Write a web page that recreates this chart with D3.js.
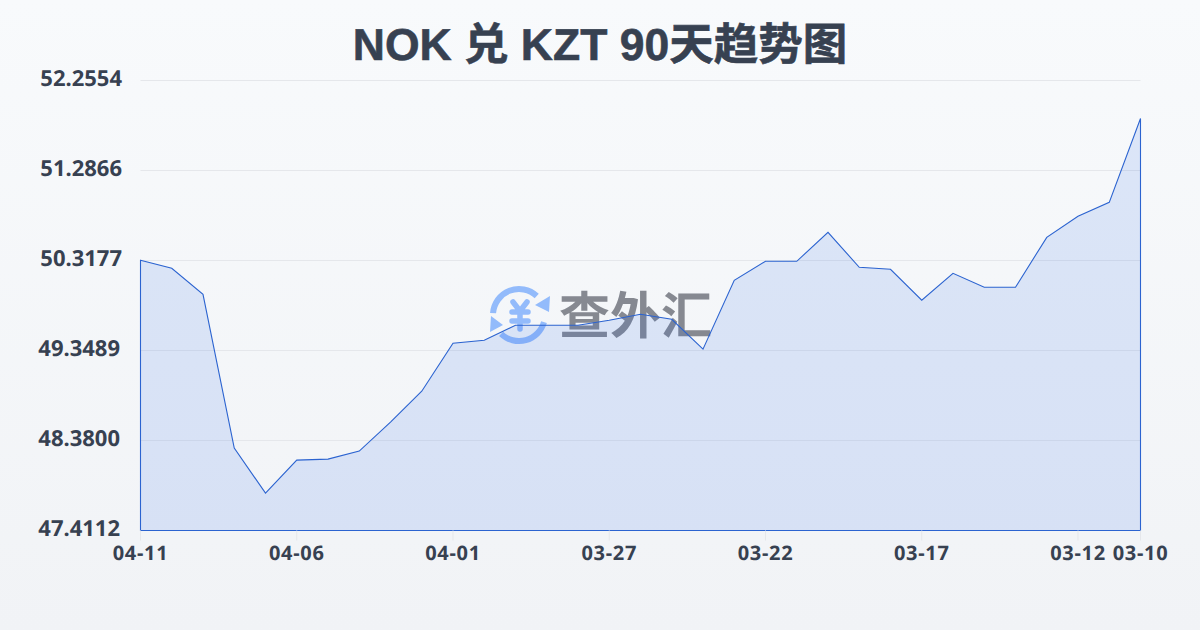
<!DOCTYPE html>
<html><head><meta charset="utf-8">
<script src="https://cdn.jsdelivr.net/npm/d3@7/dist/d3.min.js"></script>
<style>html,body{margin:0;padding:0;background:#f8fafc}svg{display:block}text{text-rendering:geometricPrecision}</style></head>
<body><svg id="c" width="1200" height="630"></svg>
<script>
const titleText = "NOK 兑 KZT 90天趋势图";
const watermarkText = "查外汇";
const categories = ["04-11","04-10","04-09","04-08","04-07","04-06","04-05","04-04","04-03","04-02","04-01","03-31","03-30","03-29","03-28","03-27","03-26","03-25","03-24","03-23","03-22","03-21","03-20","03-19","03-18","03-17","03-16","03-15","03-14","03-13","03-12","03-11","03-10"];
const values = [50.320,50.234,49.954,48.298,47.814,48.169,48.180,48.266,48.578,48.911,49.427,49.460,49.621,49.621,49.621,49.675,49.739,49.685,49.363,50.105,50.309,50.309,50.621,50.245,50.223,49.890,50.180,50.030,50.030,50.567,50.793,50.944,51.847];
const yTicks = [47.4112,48.3800,49.3489,50.3177,51.2866,52.2554];
const xTickLabels = ["04-11","04-06","04-01","03-27","03-22","03-17","03-12","03-10"];

const font = "'Noto Sans','Noto Sans CJK SC',sans-serif";
const svg = d3.select("#c");
const defs = svg.append("defs");
const bg = defs.append("linearGradient").attr("id","bg").attr("x1",0).attr("y1",0).attr("x2",0).attr("y2",1);
bg.append("stop").attr("offset","0%").attr("stop-color","#f8fafc");
bg.append("stop").attr("offset","100%").attr("stop-color","#f1f3f6");
svg.append("rect").attr("width",1200).attr("height",630).attr("fill","url(#bg)");

const x = d3.scalePoint().domain(categories).range([140.5,1140.5]);
const y = d3.scaleLinear().domain([47.4112,52.2554]).range([530.5,80.5]);

svg.append("text").attr("x",600).attr("y",60).attr("text-anchor","middle")
  .attr("font-family","'Liberation Sans','Noto Sans CJK SC',sans-serif").attr("font-weight",700).attr("font-size",44.5)
  .attr("fill","#374151").attr("stroke","#374151").attr("stroke-width",0.6).text(titleText);

// y grid + labels
const yAxis = d3.axisLeft(y).tickValues(yTicks).tickSize(-1000).tickPadding(0).offset(0).tickFormat(d3.format(".4f"));
const gy = svg.append("g").attr("transform","translate(140.5,0)").call(yAxis);
gy.select(".domain").remove();
gy.selectAll(".tick line").attr("stroke","#e5e7eb").attr("stroke-width",1);
gy.selectAll(".tick text").attr("x",d=>d<50?-20.5:-18.5).attr("y",5.5).attr("dy",0)
  .attr("font-family",font).attr("font-weight",700).attr("font-size",22).attr("fill","#374151");

// watermark
const wm = svg.append("g");
const blue = "#93bbfb";
const logo = wm.append("g").attr("transform","translate(519,315)");
const arc = d3.arc().innerRadius(23).outerRadius(29);
logo.append("path").attr("fill",blue).attr("d",arc({startAngle:-1.5,endAngle:0.75}));
logo.append("path").attr("fill",blue).attr("d",arc({startAngle:1.85,endAngle:3.9}));
logo.append("path").attr("fill",blue).attr("d","M31,-19 L30,-3 L16,-10 Z");
logo.append("path").attr("fill",blue).attr("d","M-28,1 L-16,10 L-29,17 Z");
logo.append("path").attr("fill","none").attr("stroke",blue).attr("stroke-width",5.5).attr("stroke-linecap","round").attr("stroke-linejoin","round").attr("d","M-6,-13 L1,-4 L8,-13 M-7,-3 H9 M-7,6 H9 M1,-3 V14");
wm.append("text").attr("x",559).attr("y",334).attr("font-family","'Noto Sans CJK SC'").attr("font-weight",700)
  .attr("font-size",51).attr("fill","#72767f").attr("fill-opacity",0.85).text(watermarkText);

// area + line
const area = d3.area().x((d,i)=>x(categories[i])).y0(y(47.4112)).y1(d=>y(d));
svg.append("path").datum(values).attr("d",area).attr("fill","#2563eb").attr("fill-opacity",0.13);
svg.append("path").datum(values).attr("d",area).attr("fill","none").attr("stroke","#2b63d0").attr("stroke-width",1.1);

// x axis
const xAxis = d3.axisBottom(x).tickValues(xTickLabels).tickSize(10).tickPadding(4).offset(0);
const gx = svg.append("g").attr("transform","translate(0,530.5)").call(xAxis);
gx.select(".domain").remove();
gx.selectAll(".tick line").attr("stroke","#e5e7eb");
gx.selectAll(".tick text").attr("y",0).attr("dy",0).attr("transform","translate(0,29)").attr("font-family",font).attr("font-weight",700).attr("font-size",20).attr("letter-spacing",0.7).attr("fill","#374151");
</script></body></html>
